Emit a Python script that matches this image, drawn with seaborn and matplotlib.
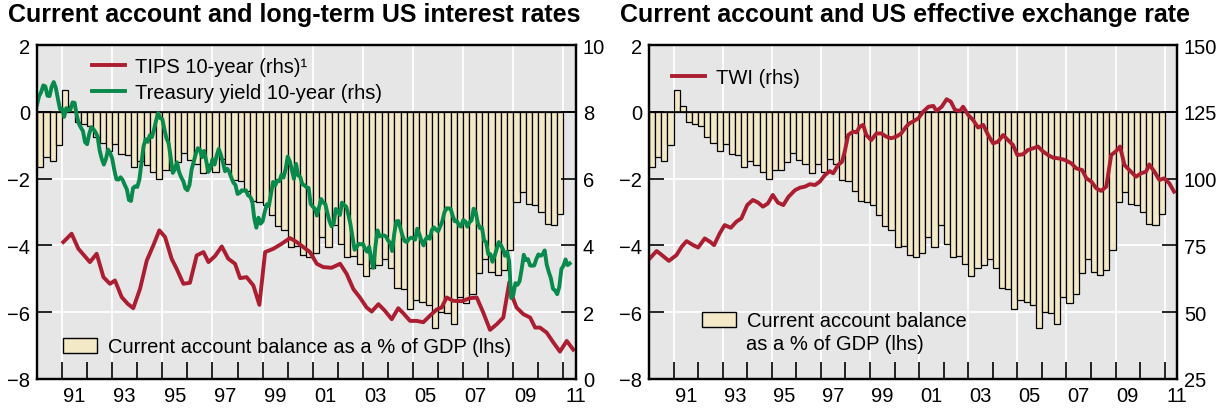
import pandas as pd
import matplotlib
matplotlib.use("Agg")
from matplotlib import pyplot as plt
from matplotlib.patches import Patch
import seaborn as sns

# Current account balance, % of GDP, quarterly 1990Q1-2010Q4
ca_balance = [
    -1.66, -1.35, -1.48, -0.98,
    0.66, 0.16, -0.30, -0.38,
    -0.43, -0.76, -0.94, -1.16,
    -0.96, -1.26, -1.30, -1.65,
    -1.47, -1.60, -1.79, -2.02,
    -1.75, -1.73, -1.50, -1.23,
    -1.45, -1.55, -1.82, -1.57,
    -1.79, -1.40, -1.55, -2.04,
    -2.07, -2.36, -2.66, -2.70,
    -2.78, -3.10, -3.43, -3.53,
    -4.05, -4.01, -4.30, -4.35,
    -4.23, -3.76, -4.05, -3.40,
    -3.95, -4.34, -4.31, -4.56,
    -4.93, -4.68, -4.58, -4.40,
    -4.68, -5.28, -5.31, -5.90,
    -5.63, -5.70, -5.78, -6.46,
    -5.98, -6.03, -6.36, -5.53,
    -5.71, -5.46, -4.83, -4.40,
    -4.80, -4.88, -4.75, -4.15,
    -2.71, -2.39, -2.76, -2.80,
    -3.00, -3.36, -3.39, -3.05,
]

# 10-year Treasury yield, monthly from Jan 1990
treasury_10y = [
    8.21, 8.47, 8.59, 8.79, 8.76, 8.48, 8.47, 8.75, 8.89, 8.72, 8.39, 8.08,
    8.09, 7.85, 8.11, 8.04, 8.07, 8.28, 8.27, 7.90, 7.65, 7.53, 7.42, 7.09,
    7.03, 7.34, 7.54, 7.48, 7.39, 7.26, 6.84, 6.59, 6.42, 6.59, 6.87, 6.77,
    6.60, 6.26, 5.98, 5.97, 6.04, 5.96, 5.81, 5.68, 5.36, 5.33, 5.72, 5.77,
    5.75, 5.97, 6.48, 6.97, 7.18, 7.10, 7.30, 7.24, 7.46, 7.74, 7.96, 7.81,
    7.78, 7.47, 7.20, 7.06, 6.63, 6.17, 6.28, 6.49, 6.20, 6.04, 5.93, 5.71,
    5.65, 5.81, 6.27, 6.51, 6.74, 6.91, 6.87, 6.64, 6.83, 6.53, 6.20, 6.30,
    6.58, 6.42, 6.69, 6.89, 6.71, 6.49, 6.22, 6.30, 6.21, 6.03, 5.88, 5.81,
    5.54, 5.57, 5.65, 5.64, 5.65, 5.50, 5.46, 5.34, 4.81, 4.53, 4.83, 4.65,
    4.72, 5.00, 5.23, 5.18, 5.54, 5.90, 5.79, 5.94, 5.92, 6.11, 6.03, 6.28,
    6.66, 6.52, 6.26, 5.99, 6.44, 6.10, 6.05, 5.83, 5.80, 5.74, 5.72, 5.24,
    5.16, 5.10, 4.89, 5.14, 5.39, 5.28, 5.24, 4.97, 4.73, 4.57, 4.65, 5.09,
    5.04, 4.91, 5.28, 5.21, 5.16, 4.93, 4.65, 4.26, 3.87, 3.94, 4.05, 4.03,
    4.05, 3.90, 3.81, 3.96, 3.57, 3.33, 3.98, 4.45, 4.27, 4.29, 4.30, 4.27,
    4.15, 4.08, 3.83, 4.35, 4.72, 4.73, 4.50, 4.28, 4.13, 4.10, 4.19, 4.23,
    4.22, 4.17, 4.50, 4.34, 4.14, 4.00, 4.18, 4.26, 4.20, 4.46, 4.54, 4.47,
    4.42, 4.57, 4.72, 4.99, 5.11, 5.11, 5.09, 4.88, 4.72, 4.73, 4.60, 4.56,
    4.76, 4.72, 4.56, 4.69, 4.75, 5.10, 5.00, 4.67, 4.52, 4.53, 4.15, 4.10,
    3.74, 3.74, 3.51, 3.68, 3.88, 4.10, 4.01, 3.89, 3.69, 3.81, 3.53, 2.42,
    2.52, 2.87, 2.82, 2.93, 3.29, 3.72, 3.56, 3.59, 3.40, 3.39, 3.40, 3.59,
    3.73, 3.69, 3.73, 3.85, 3.42, 3.20, 3.01, 2.70, 2.65, 2.54, 2.76, 3.29,
    3.39, 3.58, 3.41, 3.46,
]

tips_dates = [
    1991.05, 1991.38, 1991.65, 1991.88,
    1992.11, 1992.38, 1992.65, 1992.91,
    1993.11, 1993.38, 1993.62, 1993.84,
    1994.11, 1994.38, 1994.64, 1994.88,
    1995.11, 1995.37, 1995.57, 1995.84,
    1996.10, 1996.37, 1996.64, 1996.84,
    1997.10, 1997.37, 1997.63, 1997.90,
    1998.10, 1998.36, 1998.63, 1998.87,
    1999.10, 1999.43, 1999.76,
    2000.09, 2000.36, 2000.62, 2000.89,
    2001.16, 2001.42, 2001.75,
    2002.09, 2002.35, 2002.62, 2002.88,
    2003.15, 2003.35, 2003.62, 2003.88,
    2004.15, 2004.41, 2004.61, 2004.88,
    2005.14, 2005.41, 2005.68, 2005.94,
    2006.14, 2006.34, 2006.61, 2006.94,
    2007.27, 2007.54, 2007.80,
    2008.07, 2008.34, 2008.60, 2008.84,
    2009.00, 2009.13, 2009.40, 2009.67, 2009.87,
    2010.06, 2010.33, 2010.60, 2010.86,
    2011.13, 2011.39,
]
tips_10y = [
    4.10, 4.35, 3.90, 3.70,
    3.50, 3.75, 3.05, 2.85,
    2.95, 2.45, 2.25, 2.12,
    2.70, 3.55, 4.00, 4.45,
    4.25, 3.60, 3.30, 2.85,
    2.88, 3.70, 3.80, 3.50,
    3.68, 3.97, 3.60, 3.45,
    3.02, 3.05, 2.80, 2.22,
    3.80, 3.90, 4.05,
    4.22, 4.10, 3.95, 3.80,
    3.45, 3.35, 3.33,
    3.45, 3.15, 2.69, 2.44,
    2.14, 2.02, 2.24, 2.04,
    1.79, 2.12, 1.97, 1.74,
    1.74, 1.70, 1.90, 2.08,
    2.14, 2.44, 2.34, 2.33,
    2.42, 2.44, 1.99,
    1.47, 1.64, 1.84, 2.90,
    2.39, 2.14, 1.94, 1.84, 1.54,
    1.54, 1.39, 1.09, 0.82,
    1.14, 0.88,
]

# US trade-weighted exchange rate index
twi_dates = [
    1990.04, 1990.31, 1990.52, 1990.81,
    1991.12, 1991.33, 1991.53, 1991.80,
    1992.00, 1992.27, 1992.48, 1992.65, 1992.88,
    1993.08, 1993.33, 1993.56, 1993.76,
    1994.00, 1994.23, 1994.43, 1994.64, 1994.84,
    1995.04, 1995.25, 1995.47, 1995.68, 1995.95,
    1996.15, 1996.35, 1996.55, 1996.76, 1996.96,
    1997.16, 1997.36, 1997.50, 1997.70, 1997.86, 1997.97,
    1998.11, 1998.31, 1998.45, 1998.58, 1998.72, 1998.85,
    1999.05, 1999.26, 1999.46, 1999.66, 1999.86,
    2000.07, 2000.27, 2000.47, 2000.61, 2000.78, 2000.97,
    2001.17, 2001.38, 2001.58, 2001.71, 2001.92,
    2002.12, 2002.29, 2002.46, 2002.66, 2002.79,
    2003.00, 2003.20, 2003.40, 2003.61, 2003.81,
    2004.01, 2004.21, 2004.42, 2004.62, 2004.82,
    2005.00, 2005.23, 2005.43, 2005.63, 2005.84,
    2006.04, 2006.25, 2006.46, 2006.66, 2006.93,
    2007.20, 2007.40, 2007.64, 2007.81,
    2008.01, 2008.21, 2008.41, 2008.62, 2008.82,
    2009.00, 2009.18, 2009.36, 2009.56, 2009.83,
    2010.04, 2010.24, 2010.37, 2010.58, 2010.78, 2010.98,
    2011.19, 2011.38,
]
twi_index = [
    70.2, 72.9, 71.4, 69.2,
    71.4, 74.5, 76.6, 75.1,
    74.2, 77.6, 76.4, 75.1, 79.5,
    82.6, 81.6, 83.9, 85.1,
    90.1, 92.0, 91.1, 89.5, 90.7,
    93.9, 91.0, 90.1, 93.2, 95.7,
    96.6, 97.0, 97.9, 97.6, 98.9,
    101.3, 102.8, 102.0, 105.1, 106.3, 110.1,
    116.3, 117.6, 117.3, 119.4, 120.1, 116.3,
    114.4, 116.9, 116.9, 115.7, 115.1,
    115.7, 116.9, 119.4, 120.7, 121.5, 122.6,
    125.1, 126.9, 127.2, 125.3, 126.9,
    129.7, 128.8, 125.7, 125.3, 126.9,
    123.8, 121.9, 119.1, 120.1, 116.3,
    113.2, 113.8, 116.3, 114.4, 112.6,
    108.8, 109.1, 110.7, 111.3, 112.0,
    110.2, 108.8, 107.8, 107.6, 107.0,
    105.7, 103.8, 103.2, 100.1,
    98.9, 96.4, 95.4, 97.0, 108.8,
    110.1, 112.0, 105.1, 103.2, 100.7,
    102.0, 102.6, 105.3, 102.6, 99.5, 100.1,
    98.2, 95.1,
]

# decimal-year positions
quarters = pd.period_range("1990Q1", periods=len(ca_balance), freq="Q")
q_pos = [q.year + (q.quarter - 1) * 0.25 + 0.125 for q in quarters]
months = pd.date_range("1990-01-01", periods=len(treasury_10y), freq="MS")
m_pos = [d.year + (d.month - 1) / 12 for d in months]

GREY = "#e6e6e6"
CREAM = "#f3e9c6"
RED = "#ab1e31"
GREEN = "#078a4c"
FS = 14.5

plt.rcParams["font.family"] = ["Liberation Sans", "DejaVu Sans"]
plt.rcParams["font.size"] = FS

fig = plt.figure(figsize=(12.29, 4.10), dpi=100)
W, H = 1229, 410


def base_panel(x0, x1, xmax):
    ax = fig.add_axes([x0 / W, 30 / H, (x1 - x0) / W, 334 / H])
    ax.set_facecolor(GREY)
    sns.barplot(x=q_pos, y=ca_balance, native_scale=True, width=1,
                color=CREAM, saturation=1, edgecolor="black", linewidth=0.9,
                errorbar=None, ax=ax, zorder=2)
    ax.set_xlim(1990, xmax)
    ax.set_ylim(-8, 2)
    ax.set_yticks(range(-8, 3, 2))
    for yv in (-6, -4, -2):
        ax.axhline(yv, color="white", lw=1.3, zorder=1)
    for yr in range(1991, 2012, 2):
        ax.axvline(yr, color="white", lw=1.3, zorder=1)
    ax.axhline(0, color="black", lw=1.2, zorder=3)
    ax.set_xticks(range(1991, 2012))
    ax.set_xticklabels([])
    ax.set_xticks([y + 0.5 for y in range(1991, 2012, 2)], minor=True)
    ax.set_xticklabels([f"{y % 100:02d}" for y in range(1991, 2012, 2)], minor=True)
    ax.tick_params(axis="x", which="major", direction="in", length=12, width=1.2)
    ax.tick_params(axis="x", which="minor", length=0, pad=5, labelsize=FS)
    ax.tick_params(axis="y", direction="in", length=11, width=1.2, pad=5, labelsize=FS)
    ax.set_xlabel("")
    ax.set_ylabel("")
    ax2 = ax.twinx()
    ax2.tick_params(axis="y", direction="in", length=11, width=1.2, pad=5, labelsize=FS)
    for a in (ax, ax2):
        for s in a.spines.values():
            s.set_linewidth(1.6)
            s.set_color("black")
    return ax, ax2


def bar_legend(ax, label, anchor):
    leg = ax.legend(handles=[Patch(facecolor=CREAM, edgecolor="black", lw=1)],
                    labels=[label], loc="center left", bbox_to_anchor=anchor,
                    frameon=False, handlelength=1.7, handleheight=0.75,
                    handletextpad=0.55, borderaxespad=0, borderpad=0, fontsize=FS)
    return leg


# Left panel: interest rates
axL, axL2 = base_panel(37, 576, 2011.5)
sns.lineplot(x=tips_dates, y=tips_10y, color=RED, lw=2.8, ax=axL2,
             label="TIPS 10-year (rhs)\u00b9")
sns.lineplot(x=m_pos, y=treasury_10y, color=GREEN, lw=2.8, ax=axL2,
             label="Treasury yield 10-year (rhs)")
axL2.set_ylim(0, 10)
axL2.set_yticks(range(0, 11, 2))
axL2.set_ylabel("")
legL = axL2.legend(loc="upper left", bbox_to_anchor=(0.102, 0.964), frameon=False,
                   handlelength=1.65, handletextpad=0.5, labelspacing=0.35,
                   borderaxespad=0, borderpad=0, fontsize=FS)
axL2.add_artist(legL)
bar_legend(axL2, "Current account balance as a % of GDP (lhs)", (0.048, 0.096))

# Right panel: exchange rate
axR, axR2 = base_panel(649, 1177, 2011.4)
sns.lineplot(x=twi_dates, y=twi_index, color=RED, lw=2.8, ax=axR2, label="TWI (rhs)")
axR2.set_ylim(25, 150)
axR2.set_yticks(range(25, 151, 25))
axR2.set_ylabel("")
legR = axR2.legend(loc="center left", bbox_to_anchor=(0.044, 0.903), frameon=False,
                   handlelength=1.65, handletextpad=0.5,
                   borderaxespad=0, borderpad=0, fontsize=FS)
axR2.add_artist(legR)
bar_legend(axR2, "Current account balance", (0.100, 0.174))
axR2.text((746 - 649) / 528, (380 - 344) / 334, "as a % of GDP (lhs)",
          transform=axR2.transAxes, ha="left", va="center", fontsize=FS)

fig.text(8 / W, 1 - 15 / H, "Current account and long-term US interest rates",
         fontsize=18, fontweight="bold", ha="left", va="center")
fig.text(620 / W, 1 - 15 / H, "Current account and US effective exchange rate",
         fontsize=18, fontweight="bold", ha="left", va="center")

fig.savefig("out.png", dpi=100)
